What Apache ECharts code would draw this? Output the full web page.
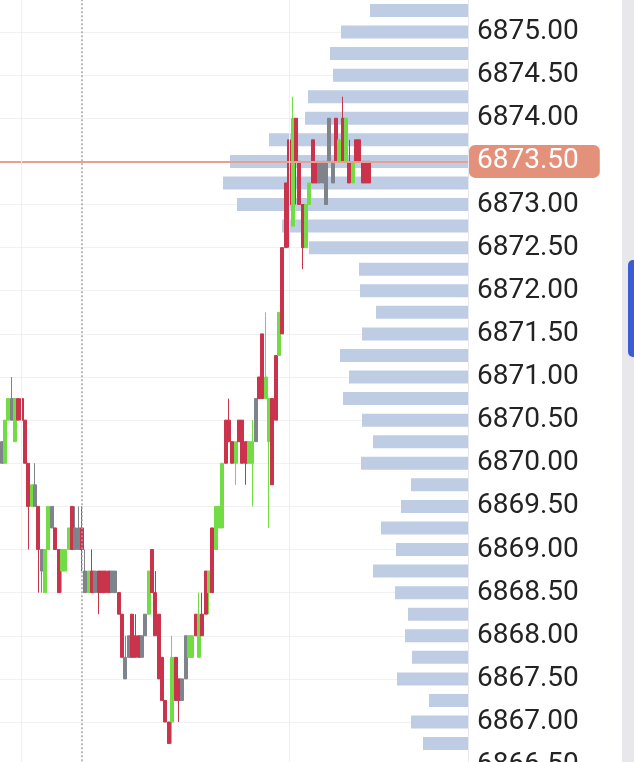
<!DOCTYPE html>
<html>
<head>
<meta charset="utf-8">
<script src="https://cdn.jsdelivr.net/npm/echarts@6/dist/echarts.min.js"></script>
<style>
  html, body { margin: 0; padding: 0; background: #ffffff; }
  #container { width: 634px; height: 762px; }
</style>
</head>
<body>
<div id="container"></div>
<script>
// candles: open, close, low, high (0.25 range bars)
var ohlc = [
  [6870.25, 6870.0, 6870.0, 6870.25], [6870.0, 6870.5, 6870.0, 6870.5], [6870.5, 6870.75, 6870.5, 6870.75],
  [6870.75, 6870.5, 6870.5, 6871.0], [6870.25, 6870.75, 6870.25, 6870.75], [6870.75, 6870.5, 6870.5, 6870.75],
  [6870.75, 6870.5, 6870.5, 6870.75], [6870.5, 6870.0, 6870.0, 6870.5], [6870.0, 6869.5, 6869.0, 6870.0],
  [6869.5, 6869.75, 6869.5, 6869.75], [6869.75, 6869.5, 6869.5, 6870.0], [6869.5, 6869.0, 6868.5, 6869.5],
  [6869.0, 6868.75, 6868.5, 6869.0], [6868.5, 6869.0, 6868.5, 6869.0], [6869.0, 6869.5, 6869.0, 6869.5],
  [6869.5, 6869.25, 6869.25, 6869.5], [6869.25, 6869.0, 6869.0, 6869.25], [6869.0, 6868.5, 6868.5, 6869.0],
  [6868.75, 6869.0, 6868.5, 6869.0], [6868.75, 6869.0, 6868.75, 6869.0], [6869.0, 6869.25, 6869.0, 6869.25],
  [6869.5, 6869.0, 6869.0, 6869.5], [6869.25, 6869.0, 6869.0, 6869.5], [6869.25, 6869.0, 6869.0, 6869.5],
  [6869.25, 6869.0, 6868.75, 6869.5], [6868.75, 6868.5, 6868.5, 6869.0], [6868.5, 6868.75, 6868.5, 6868.75],
  [6868.75, 6868.5, 6868.5, 6869.0], [6868.75, 6868.5, 6868.5, 6868.75], [6868.75, 6868.5, 6868.25, 6868.75],
  [6868.75, 6868.5, 6868.5, 6868.75], [6868.75, 6868.5, 6868.5, 6868.75], [6868.75, 6868.5, 6868.5, 6868.75],
  [6868.75, 6868.5, 6868.5, 6868.75], [6868.75, 6868.5, 6868.5, 6868.75], [6868.5, 6868.25, 6868.25, 6868.5],
  [6868.25, 6867.75, 6867.75, 6868.25], [6867.75, 6867.5, 6867.5, 6868.0], [6868.0, 6867.75, 6867.75, 6868.0],
  [6868.25, 6867.75, 6867.75, 6868.25], [6868.0, 6867.75, 6867.75, 6868.25], [6868.0, 6867.75, 6867.75, 6868.0],
  [6868.0, 6867.75, 6867.75, 6868.0], [6868.25, 6868.0, 6868.0, 6868.25], [6868.25, 6868.75, 6868.25, 6868.75],
  [6868.5, 6869.0, 6868.5, 6869.0], [6868.5, 6868.0, 6868.0, 6868.75], [6868.25, 6867.5, 6867.5, 6868.25],
  [6867.75, 6867.25, 6867.25, 6867.75], [6867.25, 6867.0, 6867.0, 6867.25], [6867.0, 6866.75, 6866.75, 6867.0],
  [6867.0, 6867.75, 6866.75, 6868.0], [6867.75, 6867.25, 6867.25, 6867.75], [6867.5, 6867.25, 6867.0, 6867.5],
  [6867.5, 6867.25, 6867.25, 6867.5], [6867.5, 6868.0, 6867.5, 6868.0], [6867.75, 6868.0, 6867.75, 6868.0],
  [6868.0, 6867.75, 6867.75, 6868.0], [6868.0, 6868.25, 6868.0, 6868.25], [6868.25, 6867.75, 6867.75, 6868.5],
  [6868.25, 6868.0, 6868.0, 6868.5], [6868.25, 6868.75, 6868.25, 6868.75], [6868.75, 6868.5, 6868.25, 6868.75],
  [6868.5, 6869.25, 6868.5, 6869.25], [6869.0, 6869.5, 6869.0, 6869.5], [6869.5, 6869.25, 6869.25, 6869.5],
  [6869.25, 6870.0, 6869.25, 6870.0], [6870.0, 6870.5, 6870.0, 6870.5], [6870.5, 6870.25, 6870.25, 6870.75],
  [6870.25, 6870.0, 6870.0, 6870.25], [6870.25, 6870.0, 6869.75, 6870.25], [6870.25, 6870.5, 6870.25, 6870.5],
  [6870.5, 6870.0, 6870.0, 6870.5], [6870.25, 6870.0, 6869.75, 6870.25], [6870.25, 6870.0, 6870.0, 6870.25],
  [6870.25, 6870.0, 6869.5, 6870.5], [6870.25, 6870.75, 6870.25, 6870.75], [6870.75, 6871.0, 6870.75, 6871.0],
  [6870.75, 6871.5, 6870.75, 6871.5], [6871.0, 6870.75, 6870.75, 6871.75], [6870.75, 6870.25, 6869.25, 6870.75],
  [6869.75, 6870.75, 6869.75, 6870.75], [6870.5, 6871.25, 6870.5, 6871.25], [6871.25, 6871.75, 6871.25, 6871.75],
  [6871.5, 6872.5, 6871.5, 6872.5], [6872.5, 6873.25, 6872.5, 6873.25], [6873.75, 6873.0, 6872.5, 6873.75],
  [6872.75, 6874.0, 6872.75, 6874.25], [6874.0, 6873.5, 6873.0, 6874.0], [6873.5, 6873.0, 6873.0, 6873.5],
  [6873.0, 6872.5, 6872.25, 6873.0], [6872.5, 6873.0, 6872.5, 6873.0], [6873.25, 6873.0, 6873.0, 6873.25],
  [6873.25, 6873.75, 6873.25, 6873.75], [6873.5, 6873.25, 6873.25, 6873.5], [6873.5, 6873.25, 6873.25, 6873.5],
  [6873.5, 6873.25, 6873.25, 6873.5], [6873.0, 6873.5, 6873.0, 6873.5], [6874.0, 6873.5, 6873.5, 6874.0],
  [6873.5, 6873.25, 6873.25, 6873.5], [6874.0, 6873.5, 6873.5, 6874.0], [6873.5, 6873.75, 6873.5, 6873.75],
  [6874.0, 6873.5, 6873.5, 6874.25], [6873.5, 6874.0, 6873.5, 6874.0], [6873.5, 6873.25, 6873.25, 6873.75],
  [6873.25, 6873.5, 6873.25, 6873.5], [6873.75, 6873.5, 6873.5, 6873.75], [6873.75, 6873.5, 6873.5, 6873.75],
  [6873.5, 6873.25, 6873.25, 6873.5], [6873.5, 6873.25, 6873.25, 6873.5], [6873.5, 6873.25, 6873.25, 6873.5]
]
// u = up (green), d = down (red), n = neutral (grey)
var tones = 'nuunuddddundnuunddu' + 'uudnndnudnddddnnddnndddnnudddddduddnnuududdudu' +
  'uuddduddduundduudduddduddduuddnnnnnd'

// volume profile, one bar per 0.25
var volPrices = [
  6875.25, 6875.0, 6874.75, 6874.5, 6874.25, 6874.0, 6873.75, 6873.5, 6873.25, 6873.0, 6872.75, 6872.5,
  6872.25, 6872.0, 6871.75, 6871.5, 6871.25, 6871.0, 6870.75, 6870.5, 6870.25, 6870.0, 6869.75, 6869.5,
  6869.25, 6869.0, 6868.75, 6868.5, 6868.25, 6868.0, 6867.75, 6867.5, 6867.25, 6867.0, 6866.75
]
var volSizes = [
  98, 127, 138, 135, 160, 163, 199, 238, 245, 231, 186, 159,
  109, 108, 92, 106, 128, 119, 125, 106, 95, 107, 57, 67,
  87, 72, 95, 73, 60, 63, 56, 71, 39, 57, 45
]

var lastPrice = 6873.5
var slotCount = 140
var gridMarks = [6, 86] // faint session lines
var dayBreak = 24 // dotted separator

var colUp = '#72dc45'
var colDown = '#c9334b'
var colFlat = '#7f838b'

var chart = echarts.init(document.getElementById('container'))

var slots = []
for (var i = 0; i < slotCount; i++) slots.push(String(i))

var candleData = ohlc.map(function(c, i) {
  var t = tones.charAt(i) || (c[1] > c[0] ? 'u' : 'd')
  var col = t === 'u' ? colUp : (t === 'd' ? colDown : colFlat)
  return {
    value: c,
    itemStyle: { color: col, color0: col, borderColor: col, borderColor0: col, borderColorDoji: col }
  }
})

var volData = volPrices.map(function(p, i) { return [volSizes[i], p] })

chart.setOption({
  animation: false,
  backgroundColor: '#ffffff',
  grid: { left: 0, right: 166, top: -11.125, bottom: -3.125, outerBoundsMode: 'none', containLabel: false },
  xAxis: [
    {
      type: 'category',
      data: slots,
      boundaryGap: true,
      axisLine: { show: false },
      axisTick: { show: false },
      axisLabel: { show: false },
      splitLine: { show: false }
    },
    {
      type: 'value',
      inverse: true,
      min: 0,
      max: 468,
      show: false
    }
  ],
  yAxis: {
    type: 'value',
    position: 'right',
    min: 6866.5,
    max: 6875.5,
    interval: 0.5,
    axisLine: { show: true, lineStyle: { color: '#e6e9ef', width: 1 } },
    axisTick: { show: false },
    axisLabel: {
      margin: 9,
      color: '#232323',
      fontSize: 28,
      fontFamily: 'Roboto',
      formatter: function(v) { return v.toFixed(2) }
    },
    splitLine: { show: true, lineStyle: { color: '#f1f1f3', width: 1 } }
  },
  series: [
    {
      name: 'profile',
      type: 'custom',
      xAxisIndex: 1,
      yAxisIndex: 0,
      encode: { x: 0, y: 1 },
      data: volData,
      z: 1,
      renderItem: function(params, api) {
        var a = api.coord([0, api.value(1)])
        var b = api.coord([api.value(0), api.value(1)])
        return {
          type: 'rect',
          shape: { x: b[0], y: a[1] - 6.5, width: a[0] - b[0], height: 13 },
          style: { fill: '#bfcde4' }
        }
      }
    },
    {
      name: 'price',
      type: 'candlestick',
      xAxisIndex: 0,
      yAxisIndex: 0,
      barWidth: 3.5,
      z: 3,
      data: candleData,
      markLine: {
        symbol: 'none',
        silent: true,
        animation: false,
        data: [
          {
            yAxis: lastPrice,
            lineStyle: { color: '#e9a08e', width: 2, type: 'solid' },
            label: {
              show: true,
              position: 'end',
              distance: 1,
              formatter: function(p) { return Number(p.value).toFixed(2) },
              color: '#ffffff',
              fontSize: 28,
              fontFamily: 'Roboto',
              backgroundColor: '#e4917b',
              borderRadius: 6,
              padding: [3, 21, 2, 8]
            }
          },
          {
            xAxis: String(dayBreak),
            lineStyle: { color: '#a3a3a8', width: 1.5, type: [2, 2] },
            label: { show: false }
          },
          {
            xAxis: String(gridMarks[0]),
            lineStyle: { color: '#eeeef0', width: 1, type: 'solid' },
            label: { show: false }
          },
          {
            xAxis: String(gridMarks[1]),
            lineStyle: { color: '#eeeef0', width: 1, type: 'solid' },
            label: { show: false }
          }
        ]
      }
    }
  ],
  graphic: [
    { type: 'rect', left: 622, top: 0, shape: { width: 12, height: 762 }, style: { fill: '#e8e8ec' }, z: 100 },
    { type: 'rect', left: 628, top: 260, shape: { width: 10, height: 97, r: [5, 0, 0, 5] }, style: { fill: '#3a5dd4' }, z: 101 }
  ]
})
</script>
</body>
</html>
